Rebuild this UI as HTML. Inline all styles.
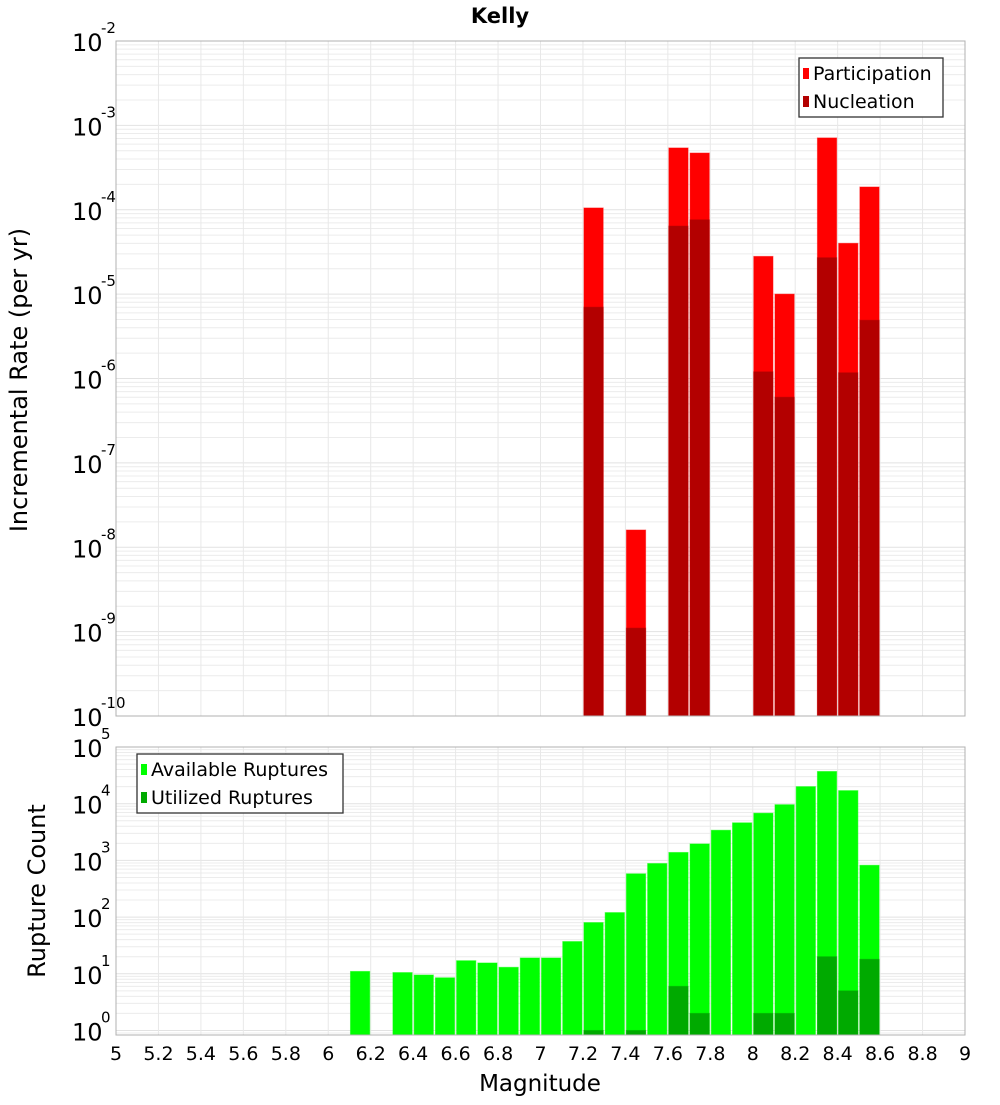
<!DOCTYPE html>
<html><head><meta charset="utf-8"><style>
body{margin:0;background:#fff;}
svg{font-family:"DejaVu Sans","Liberation Sans",sans-serif;}
</style></head><body>
<svg id="c" width="1000" height="1100" xmlns="http://www.w3.org/2000/svg"></svg>
<script>
const topBins=[7.25,7.45,7.65,7.75,8.05,8.15,8.35,8.45,8.55];
const participation=[1.05e-4,1.6e-8,5.4e-4,4.7e-4,2.8e-5,1.0e-5,7.1e-4,4.0e-5,1.86e-4];
const nucleation=[7e-6,1.1e-9,6.4e-5,7.6e-5,1.2e-6,6e-7,2.7e-5,1.17e-6,4.9e-6];
const botBins=[6.15,6.35,6.45,6.55,6.65,6.75,6.85,6.95,7.05,7.15,7.25,7.35,7.45,7.55,7.65,7.75,7.85,7.95,8.05,8.15,8.25,8.35,8.45,8.55];
const available=[11,10.5,9.5,8.5,17,15.5,13,19,19,37,80,120,580,880,1380,1950,3400,4600,6800,9600,20000,37000,17000,820];
const utilBins=[7.25,7.45,7.65,7.75,8.05,8.15,8.35,8.45,8.55];
const utilized=[1,1,6,2,2,2,20,5,18];
const xTicks=[5,5.2,5.4,5.6,5.8,6,6.2,6.4,6.6,6.8,7,7.2,7.4,7.6,7.8,8,8.2,8.4,8.6,8.8,9];
const topExp=[-10,-9,-8,-7,-6,-5,-4,-3,-2];
const botExp=[0,1,2,3,4,5];

const svg=document.getElementById('c');const NS='http://www.w3.org/2000/svg';
function el(t,a,p){const e=document.createElementNS(NS,t);for(const k in a)e.setAttribute(k,a[k]);(p||svg).appendChild(e);return e;}
const X0=116,X1=965;
const x=v=>X0+(v-5)/(9-5)*(X1-X0);
const T0=41,T1=716;const yT=v=>T1-(Math.log10(v)+10)/8*(T1-T0);
const B0=747,B1=1035;const BL=-0.08,BH=5;const yB=v=>B1-(Math.log10(v)-BL)/(BH-BL)*(B1-B0);

function panel(y0,y1,yf,lo,hi,name){
  const g=el('g',{});
  
  for(let e=lo;e<hi;e++)for(let m=1;m<10;m++){const v=m*Math.pow(10,e);const yy=yf(v);if(yy<y0||yy>y1)continue;
    el('line',{x1:X0,x2:X1,y1:yy,y2:yy,stroke:m==1?'#e2e2e2':'#ececec','stroke-width':1},g);}
  xTicks.forEach(t=>el('line',{x1:x(t),x2:x(t),y1:y0,y2:y1,stroke:'#e8e8e8'},g));
}
panel(T0,T1,yT,-10,-2,'top');panel(B0,B1,yB,-1,5,'bottom');

function bars(bins,vals,yf,ybase,color,name){
  bins.forEach((b,i)=>{const r=el('rect',{x:x(b-0.05)+1,width:x(b+0.05)-x(b-0.05)-2,y:yf(vals[i]),height:ybase-yf(vals[i]),fill:color,stroke:color,'stroke-opacity':0.5});
    });
}
bars(topBins,participation,yT,T1,'#ff0000','participation');
bars(topBins,nucleation,yT,T1,'#b30000','nucleation');
bars(botBins,available,yB,B1,'#00ff00','available');
bars(utilBins,utilized,yB,B1,'#00aa00','utilized');

el('rect',{x:X0,y:T0,width:X1-X0,height:T1-T0,fill:'none',stroke:'#b0b0b0'});
el('rect',{x:X0,y:B0,width:X1-X0,height:B1-B0,fill:'none',stroke:'#b0b0b0'});

function ylab(exps,yf,name){exps.forEach(e=>{const yy=yf(Math.pow(10,e));
  const t=el('text',{x:72,y:yy+10,'font-size':24,fill:'#000'});t.textContent='10';
  
  const s=el('text',{x:101,y:yy-8,'font-size':15,fill:'#000'});s.textContent=String(e);
  });}
ylab(topExp,yT,'top-y');ylab(botExp,yB,'bottom-y');
xTicks.forEach(t=>{const tx=el('text',{x:x(t),y:1060,'font-size':19,'text-anchor':'middle'});tx.textContent=String(t);
  });

let t=el('text',{x:500,y:23,'font-size':21,'font-weight':'bold','text-anchor':'middle'});t.textContent='Kelly';

t=el('text',{x:540,y:1091,'font-size':23,'text-anchor':'middle'});t.textContent='Magnitude';

t=el('text',{x:0,y:0,'font-size':24,'text-anchor':'middle',transform:'translate(27,380) rotate(-90)'});t.textContent='Incremental Rate (per yr)';

t=el('text',{x:0,y:0,'font-size':24,'text-anchor':'middle',transform:'translate(45,891) rotate(-90)'});t.textContent='Rupture Count';


function legend(lx,ly,w,h,items,name){
  const g=el('g',{});
  el('rect',{x:lx,y:ly,width:w,height:h,fill:'#fff',stroke:'#333','stroke-width':1.3},g);
  items.forEach((it,i)=>{const yy=ly+15+i*28;
    el('rect',{x:lx+4,y:yy-5,width:6,height:11,fill:it[1]},g);
    const tx=el('text',{x:lx+14,y:yy+7,'font-size':19},g);tx.textContent=it[0];
    });
}
legend(799,58,144,59,[['Participation','#ff0000'],['Nucleation','#b30000']],'top-legend');
legend(137,754,206,59,[['Available Ruptures','#00ff00'],['Utilized Ruptures','#00aa00']],'bottom-legend');
</script>
</body></html>
